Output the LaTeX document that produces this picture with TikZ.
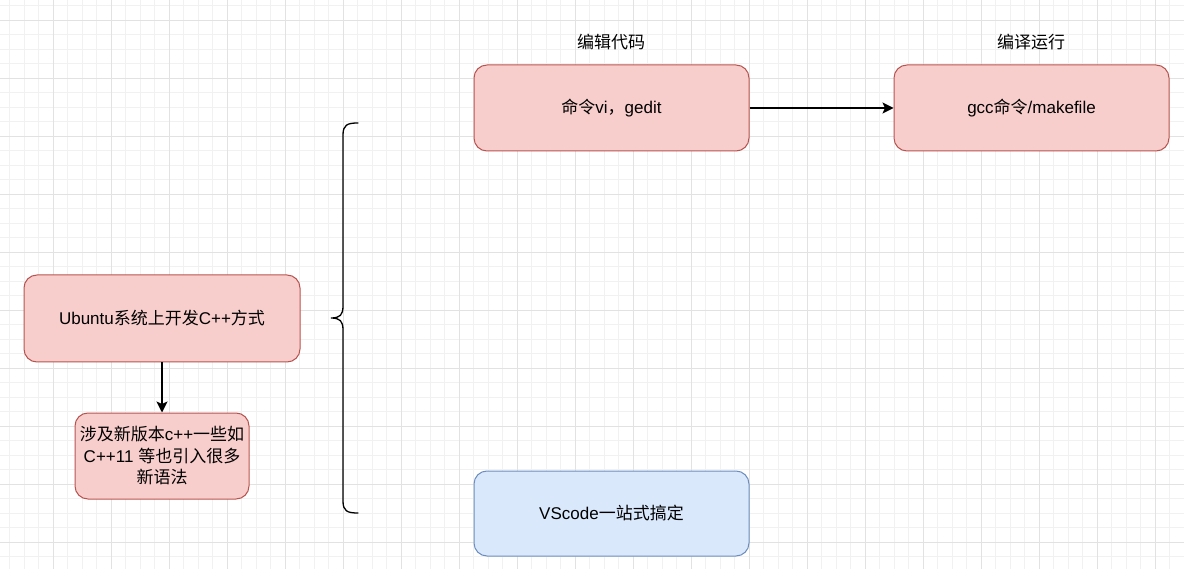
\documentclass[tikz,border=0pt]{standalone}
\usepackage{fontspec}
\setmainfont{Liberation Sans}
\newfontfamily\cjkfont{Noto Sans CJK SC}
\newcommand\zh[1]{{\cjkfont #1}}
\usetikzlibrary{arrows.meta}
\definecolor{pinkfill}{HTML}{F8CECC}
\definecolor{pinkdraw}{HTML}{B85450}
\definecolor{bluefill}{HTML}{DAE8FC}
\definecolor{bluedraw}{HTML}{6C8EBF}
\definecolor{gridminor}{HTML}{F1F1F1}
\definecolor{gridmajor}{HTML}{E2E2E2}
\tikzset{
  box/.style={rounded corners=13pt, line width=1pt, inner sep=0pt, align=center,
    font=\fontsize{17}{21.5}\selectfont, text=black},
  pinkbox/.style={box, fill=pinkfill, draw=pinkdraw},
  bluebox/.style={box, fill=bluefill, draw=bluedraw},
  lbl/.style={inner sep=0pt, font=\fontsize{17}{21.5}\selectfont},
  arr/.style={line width=1.4pt, -{Stealth[length=11pt,width=11pt,inset=2.5pt]}},
  bracestyle/.style={line width=1.3pt, line cap=round}
}
\begin{document}
\begin{tikzpicture}[x=1pt,y=-1pt]
\useasboundingbox (0,0) rectangle (1184,569);
\fill[white] (0,0) rectangle (1184,569);
% grid
\foreach \i in {0,...,81} {
  \pgfmathsetmacro\xx{9.8+14.5*\i}
  \draw[gridminor, line width=0.8pt] (\xx,0) -- (\xx,569);
}
\foreach \i in {0,...,39} {
  \pgfmathsetmacro\yy{5.8+14.5*\i}
  \draw[gridminor, line width=0.8pt] (0,\yy) -- (1184,\yy);
}
\foreach \i in {0,...,20} {
  \pgfmathsetmacro\xx{53.3+58*\i}
  \draw[gridmajor, line width=0.9pt] (\xx,0) -- (\xx,569);
}
\foreach \i in {0,...,9} {
  \pgfmathsetmacro\yy{20.3+58*\i}
  \draw[gridmajor, line width=0.9pt] (0,\yy) -- (1184,\yy);
}
% nodes
\node[pinkbox, minimum width=276pt, minimum height=87pt] (ubuntu) at (162,318.5)
  {Ubuntu\zh{系统上开发}C++\zh{方式}};
\node[pinkbox, minimum width=174pt, minimum height=86pt] (syntax) at (162,456)
  {\zh{涉及新版本}c++\zh{一些如}\\C++11 \zh{等也引入很多}\\\zh{新语法}};
\node[pinkbox, minimum width=275pt, minimum height=86pt] (vi) at (611.5,108)
  {\zh{命令}vi\zh{，}gedit};
\node[pinkbox, minimum width=275pt, minimum height=86pt] (gcc) at (1031.5,108)
  {gcc\zh{命令}/makefile};
\node[bluebox, minimum width=275pt, minimum height=85pt] (vscode) at (611.5,513.5)
  {VScode\zh{一站式搞定}};
\node[lbl] (edit) at (611,42) {\zh{编辑代码}};
\node[lbl] (build) at (1031,42) {\zh{编译运行}};
% connectors
\draw[arr] (ubuntu.south) -- (syntax.north);
\draw[arr] (vi.east) -- (gcc.west);
% brace
\coordinate (btop) at (358,123);
\coordinate (bmid) at (331,318);
\coordinate (bbot) at (358,513);
\draw[bracestyle] (btop) .. controls (347,123) and (343,125) .. (343,135)
  -- (343,306) .. controls (343,315) and (340,318) .. (bmid)
  .. controls (340,318) and (343,321) .. (343,330)
  -- (343,501) .. controls (343,511) and (347,513) .. (bbot);
\end{tikzpicture}
\end{document}
